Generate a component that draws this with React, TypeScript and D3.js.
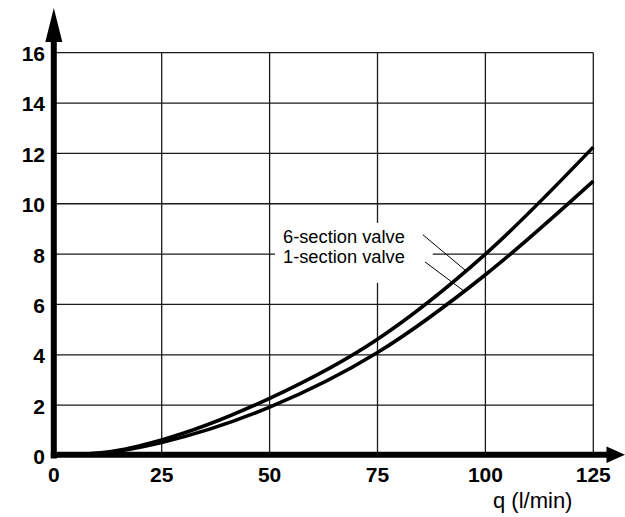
import React from "react";
import * as d3 from "d3";

// Flow q (l/min) vs pressure drop for two valve configurations
const flowTicks = [0, 25, 50, 75, 100, 125];
const pressureTicks = [0, 2, 4, 6, 8, 10, 12, 14, 16];

const flow = [0, 12.5, 25, 50, 75, 100, 125];
const sixSection = [0, 0.14, 0.62, 2.27, 4.62, 8.0, 12.25];
const oneSection = [0, 0.12, 0.52, 1.92, 4.09, 7.18, 10.9];

const seriesNames = ["6-section valve", "1-section valve"];
// label anchor (q, p) and leader line start/end in data units
const labelAnchor = [
  [53.1, 8.45],
  [53.1, 7.65],
];
const leaderStart = [
  [85.5, 8.77],
  [86.0, 7.69],
];
const leaderEndFlow = [95.3, 94.9];

const W = 625;
const H = 517;

export default function App() {
  const x = d3.scaleLinear().domain([0, 125]).range([53.8, 593.3]);
  const y = d3.scaleLinear().domain([0, 16]).range([455.5, 52.7]);

  const series = [sixSection, oneSection];
  const line = d3
    .line<[number, number]>()
    .x((d) => x(d[0]))
    .y((d) => y(d[1]))
    .curve(d3.curveMonotoneX);

  const interp = (vals: number[], q: number) => {
    const i = d3.bisectRight(flow, q) - 1;
    const j = Math.min(i + 1, flow.length - 1);
    if (i === j) return vals[i];
    const t = (q - flow[i]) / (flow[j] - flow[i]);
    return vals[i] + t * (vals[j] - vals[i]);
  };

  const x0 = x(0);
  const y0 = y(0);
  const gridColor = "#1a1a1a";
  const font = "'Liberation Sans', Arial, Helvetica, sans-serif";

  return (
    <svg
      width={W}
      height={H}
      style={{ position: "absolute", left: 0, top: 0, background: "#fff" }}
    >
      {/* grid */}
      {pressureTicks
        .filter((t) => t > 0)
        .map((t) => (
          <line
            key={"h" + t}
            x1={x0}
            x2={x(125)}
            y1={y(t)}
            y2={y(t)}
            stroke={gridColor}
            strokeWidth={1.3}
          />
        ))}
      {flowTicks
        .filter((t) => t > 0)
        .map((t) => (
          <line
            key={"v" + t}
            x1={x(t)}
            x2={x(t)}
            y1={y(16)}
            y2={y0}
            stroke={gridColor}
            strokeWidth={1.3}
          />
        ))}

      {/* white patch behind the series labels */}
      <rect
        x={x(51.25)}
        y={y(9.24)}
        width={x(87.8) - x(51.25)}
        height={y(6.86) - y(9.24)}
        fill="#fff"
      />

      {/* curves */}
      {series.map((vals, k) => (
        <path
          key={"c" + k}
          d={line(flow.map((q, i) => [q, vals[i]] as [number, number])) || ""}
          fill="none"
          stroke="#000"
          strokeWidth={3.6}
        />
      ))}

      {/* labels and leader lines */}
      {seriesNames.map((name, k) => (
        <g key={"l" + k}>
          <text
            x={x(labelAnchor[k][0])}
            y={y(labelAnchor[k][1])}
            fontFamily={font}
            fontSize={18.3}
            fill="#000"
          >
            {name}
          </text>
          <line
            x1={x(leaderStart[k][0])}
            y1={y(leaderStart[k][1])}
            x2={x(leaderEndFlow[k])}
            y2={y(interp(series[k], leaderEndFlow[k]))}
            stroke="#000"
            strokeWidth={1}
          />
        </g>
      ))}

      {/* axes */}
      <line x1={x0} x2={x0} y1={y0 + 3} y2={40} stroke="#000" strokeWidth={6} />
      <path d={`M${x0},8 L${x0 + 8.5},42 L${x0 - 8.5},42 Z`} fill="#000" />
      <line x1={x0 - 3} x2={608} y1={y0 - 0.8} y2={y0 - 0.8} stroke="#000" strokeWidth={6} />
      <path
        d={`M625,${y0 - 0.8} L606.5,${y0 - 9} L606.5,${y0 + 7.4} Z`}
        fill="#000"
      />

      {/* tick labels */}
      {pressureTicks.map((t) => (
        <text
          key={"yt" + t}
          x={45}
          y={y(t)}
          dy="0.4em"
          textAnchor="end"
          fontFamily={font}
          fontWeight="bold"
          fontSize={21}
          fill="#000"
        >
          {t}
        </text>
      ))}
      {flowTicks.map((t) => (
        <text
          key={"xt" + t}
          x={x(t)}
          y={482}
          textAnchor="middle"
          fontFamily={font}
          fontWeight="bold"
          fontSize={21}
          fill="#000"
        >
          {t}
        </text>
      ))}
      <text x={493} y={508} fontFamily={font} fontSize={22} fill="#000">
        q (l/min)
      </text>
    </svg>
  );
}
